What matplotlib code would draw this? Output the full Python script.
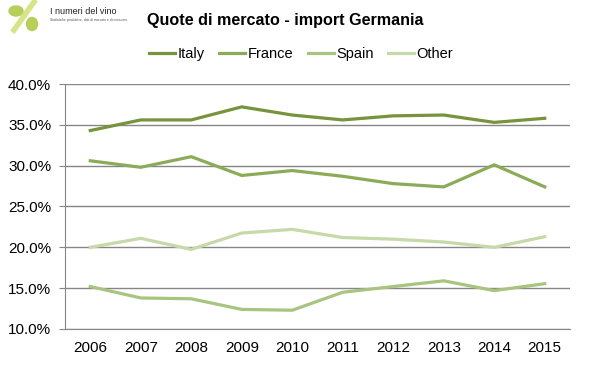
import matplotlib.pyplot as plt
from matplotlib.ticker import FuncFormatter
from matplotlib.patches import Ellipse

years = ['2006', '2007', '2008', '2009', '2010', '2011', '2012', '2013', '2014', '2015']
italy = [34.3, 35.6, 35.6, 37.2, 36.2, 35.6, 36.1, 36.2, 35.3, 35.8]
france = [30.6, 29.8, 31.1, 28.8, 29.4, 28.7, 27.8, 27.4, 30.1, 27.4]
spain = [15.2, 13.8, 13.7, 12.4, 12.3, 14.5, 15.2, 15.9, 14.7, 15.55]
other = [20.0, 21.1, 19.75, 21.75, 22.2, 21.2, 21.0, 20.65, 20.0, 21.3]

series = [('Italy', italy, '#77933c'),
          ('France', france, '#8cab58'),
          ('Spain', spain, '#a8c47f'),
          ('Other', other, '#c6d9a8')]

plt.rcParams['font.family'] = ['Liberation Sans', 'DejaVu Sans']

fig = plt.figure(figsize=(5.98, 3.66), dpi=100)
ax = fig.add_axes([65 / 598, 1 - 329 / 366, 505 / 598, 245 / 366])

x = list(range(len(years)))
for name, vals, col in series:
    ax.plot(x, vals, color=col, linewidth=2.3, label=name)

ax.set_xlim(-0.5, len(years) - 0.5)
ax.set_ylim(10, 40)
ax.set_yticks([10, 15, 20, 25, 30, 35, 40])
ax.yaxis.set_major_formatter(FuncFormatter(lambda v, p: '%.1f%%' % v))
ax.set_xticks(x)
ax.set_xticklabels(years)
ax.grid(axis='y', color='#868686', linewidth=1)
ax.set_axisbelow(True)
for s in ['top', 'right']:
    ax.spines[s].set_visible(False)
for s in ['left', 'bottom']:
    ax.spines[s].set_color('#868686')
ax.tick_params(axis='y', length=4, color='#868686', labelsize=11, pad=6)
ax.tick_params(axis='x', length=0, labelsize=11, pad=9)

fig.text(285 / 598, 1 - 20 / 366, 'Quote di mercato - import Germania',
         ha='center', va='center', fontsize=11.6, fontweight='bold')
ax.legend(loc='center', bbox_to_anchor=(301 / 598, 1 - 54 / 366),
          bbox_transform=fig.transFigure, ncol=4, frameon=False, fontsize=10.5,
          handlelength=1.8, columnspacing=1.0, handletextpad=0.15)

# logo
fig.text(50 / 598, 1 - 12 / 366, 'I numeri del vino', fontsize=6.5, va='center', color='#222222')
fig.text(50 / 598, 1 - 20 / 366, 'Statistiche produttive, dati di mercato e di consumo',
         fontsize=2.4, va='center', color='#555555')
logo = fig.add_axes([0, 1 - 34 / 366, 46 / 598, 34 / 366])
logo.set_xlim(0, 46)
logo.set_ylim(34, 0)
logo.axis('off')
logo.plot([14, 34], [30, 2], color='#d8e48a', linewidth=4)
logo.add_patch(Ellipse((16, 11), 14, 10, color='#b5cf5a'))
logo.add_patch(Ellipse((32, 24), 11, 13, color='#b5cf5a'))

fig.savefig('out.png', dpi=100)
